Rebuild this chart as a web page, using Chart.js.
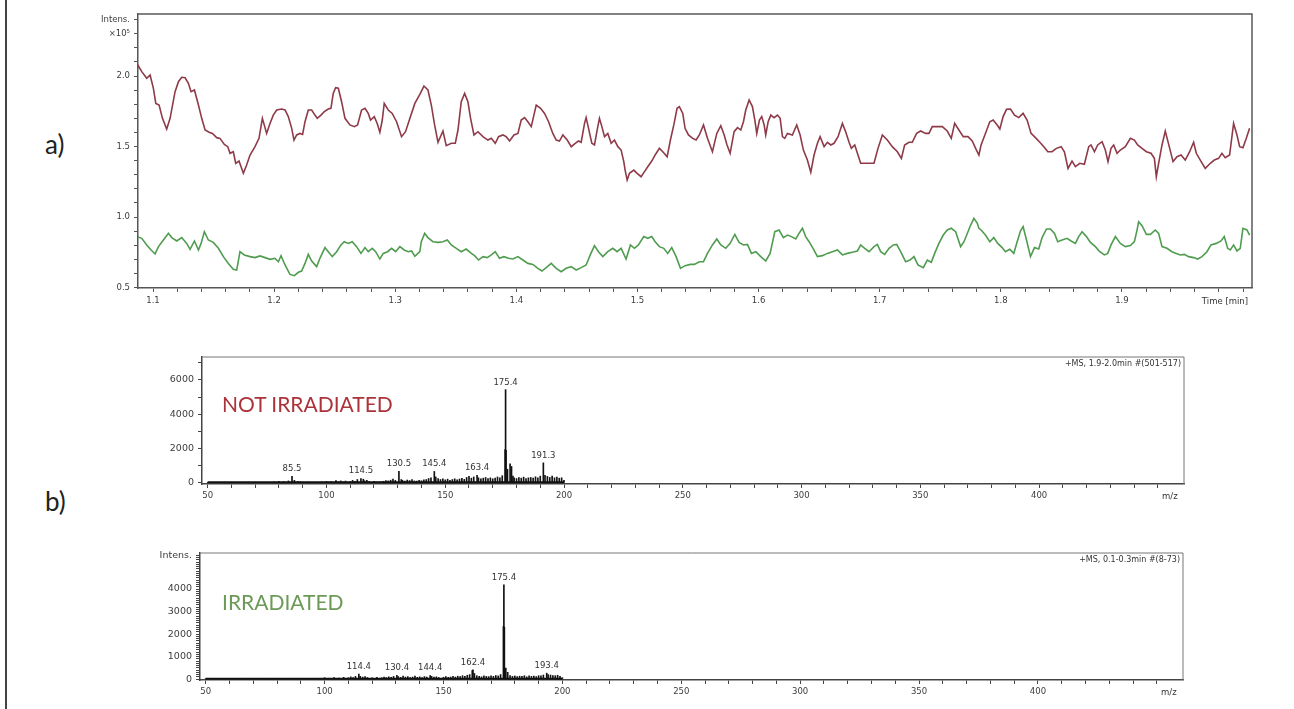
<!DOCTYPE html>
<html>
<head>
<meta charset="utf-8">
<script src="https://cdn.jsdelivr.net/npm/chart.js@4.4.0/dist/chart.umd.min.js"></script>
<style>
  body { margin: 0; background: #fff; width: 1294px; height: 709px; overflow: hidden; position: relative; }
  canvas { position: absolute; }
  #edge { position: absolute; left: 5px; top: 0; width: 2px; height: 709px; background: #444; }
  .tag { position: absolute; font-family: Lato, sans-serif; font-size: 26px; line-height: 26px; color: #222; }
  .state { position: absolute; font-family: Lato, sans-serif; font-size: 21px; line-height: 21px; }
</style>
</head>
<body>
<div id="edge"></div>
<div class="tag" style="left:45px; top:131px;">a)</div>
<div class="tag" style="left:45px; top:488px;">b)</div>
<canvas id="chromA" width="1180" height="312" style="left:80px; top:0px;"></canvas>
<canvas id="specNI" width="1060" height="164" style="left:140px; top:340px;"></canvas>
<canvas id="specIR" width="1060" height="170" style="left:140px; top:535px;"></canvas>
<div class="state" style="left:222px; top:393px; color:#ad333b;">NOT IRRADIATED</div>
<div class="state" style="left:222px; top:591px; color:#6c9a56;">IRRADIATED</div>

<script>
// ---- a) chromatogram, intensity x10^5 vs time [min]
const redTime = [
  1.0866,1.0907,1.0948,1.0976,1.1003,1.1023,1.1050,1.1078,1.1113,1.1141,1.1182,1.1210,1.1237,1.1265,1.1292,1.1314,1.1342,1.1375,1.1402,1.1430,1.1463,1.1490,1.1526,1.1553,1.1589,1.1617,1.1636,1.1663,1.1683,1.1710,1.1746,1.1773,1.1801,1.1842,1.1875,1.1903,1.1938,1.1966,1.1993,1.2021,1.2062,1.2090,1.2117,1.2145,1.2164,1.2186,1.2213,1.2235,1.2255,1.2282,1.2310,1.2337,1.2356,1.2387,1.2414,1.2447,1.2469,1.2488,1.2508,1.2530,1.2557,1.2585,1.2626,1.2662,1.2689,1.2722,1.2750,1.2777,1.2796,1.2827,1.2851,1.2873,1.2893,1.2909,1.2942,1.2975,1.3011,1.3052,1.3085,1.3121,1.3162,1.3203,
  1.3237,1.3270,1.3298,1.3325,1.3353,1.3394,1.3421,1.3463,1.3496,1.3518,1.3545,1.3573,1.3600,1.3622,1.3650,1.3683,1.3724,1.3765,1.3793,1.3826,1.3853,1.3889,1.3916,1.3944,1.3980,1.4013,1.4040,1.4068,1.4095,1.4123,1.4145,1.4164,1.4200,1.4233,1.4266,1.4301,1.4329,1.4356,1.4384,1.4420,1.4453,1.4486,1.4513,1.4535,1.4563,1.4576,1.4596,1.4623,1.4645,1.4667,1.4686,1.4706,1.4728,1.4755,1.4783,1.4810,1.4838,1.4865,1.4887,1.4898,1.4915,1.4934,1.4970,1.4997,1.5030,1.5058,1.5085,1.5118,1.5146,1.5181,1.5209,1.5245,1.5272,1.5300,1.5327,1.5346,1.5374,1.5393,1.5421,1.5456,1.5484,1.5511,
  1.5545,1.5578,1.5619,1.5655,1.5688,1.5716,1.5738,1.5765,1.5798,1.5826,1.5853,1.5875,1.5894,1.5922,1.5949,1.5969,1.5985,1.6007,1.6026,1.6046,1.6059,1.6079,1.6101,1.6128,1.6156,1.6178,1.6197,1.6216,1.6238,1.6279,1.6315,1.6343,1.6370,1.6403,1.6431,1.6458,1.6486,1.6508,1.6541,1.6568,1.6596,1.6623,1.6656,1.6692,1.6719,1.6747,1.6766,1.6794,1.6816,1.6843,1.6953,1.6986,1.7022,1.7063,1.7104,1.7146,1.7179,1.7206,1.7242,1.7269,1.7305,1.7338,1.7379,1.7407,1.7434,1.7517,1.7558,1.7591,1.7619,1.7654,1.7690,1.7729,1.7764,1.7792,1.7819,
  1.7837,1.7873,1.7909,1.7937,1.7970,1.7992,1.8019,1.8047,1.8080,1.8113,1.8148,1.8184,1.8217,1.8250,1.8286,1.8322,1.8355,1.8388,1.8423,1.8459,1.8498,1.8525,1.8555,1.8588,1.8616,1.8652,1.8690,1.8726,1.8745,1.8773,1.8800,1.8836,1.8863,1.8885,1.8910,1.8932,1.8960,1.8987,1.9028,1.9070,1.9103,1.9130,1.9166,1.9202,1.9240,1.9268,1.9284,1.9303,1.9331,1.9358,1.9386,1.9422,1.9455,1.9488,1.9523,1.9559,1.9592,1.9614,1.9647,1.9688,1.9730,1.9763,1.9798,1.9826,1.9853,1.9889,1.9922,1.9950,1.9972,1.9999,2.0027,2.0054
];
const redInt = [
  2.090,2.031,1.984,2.007,1.913,1.806,1.794,1.700,1.624,1.700,1.889,1.960,1.991,1.988,1.948,1.889,1.901,1.794,1.700,1.617,1.601,1.593,1.563,1.558,1.515,1.499,1.452,1.463,1.381,1.397,1.310,1.369,1.440,1.499,1.558,1.700,1.593,1.664,1.723,1.759,1.766,1.759,1.712,1.629,1.546,1.582,1.593,1.586,1.676,1.759,1.759,1.723,1.700,1.723,1.747,1.766,1.771,1.877,1.917,1.913,1.818,1.700,1.653,1.641,1.653,1.759,1.771,1.735,1.688,1.712,1.664,1.601,1.688,1.806,1.759,1.735,1.676,1.570,1.605,1.700,1.806,1.870,
  1.929,1.901,1.794,1.653,1.530,1.610,1.506,1.523,1.523,1.617,1.818,1.877,1.818,1.700,1.582,1.605,1.570,1.546,1.558,1.523,1.570,1.582,1.570,1.539,1.582,1.593,1.688,1.705,1.676,1.641,1.723,1.794,1.771,1.735,1.676,1.593,1.546,1.539,1.582,1.546,1.499,1.523,1.539,1.530,1.664,1.705,1.629,1.523,1.511,1.617,1.700,1.641,1.570,1.593,1.523,1.546,1.499,1.475,1.393,1.333,1.262,1.310,1.333,1.310,1.286,1.322,1.357,1.397,1.440,1.487,1.463,1.428,1.546,1.653,1.771,1.783,1.735,1.629,1.582,1.558,1.546,1.582,
  1.653,1.558,1.463,1.593,1.648,1.582,1.515,1.452,1.605,1.634,1.617,1.676,1.759,1.830,1.783,1.688,1.593,1.688,1.712,1.653,1.582,1.676,1.723,1.705,1.723,1.700,1.570,1.558,1.593,1.582,1.653,1.582,1.475,1.404,1.317,1.440,1.523,1.570,1.499,1.530,1.511,1.523,1.570,1.664,1.605,1.530,1.487,1.511,1.452,1.381,1.381,1.487,1.582,1.546,1.499,1.463,1.416,1.511,1.530,1.530,1.593,1.610,1.593,1.593,1.641,1.641,1.610,1.558,1.664,1.617,1.570,1.570,1.539,1.487,1.440,
  1.511,1.593,1.676,1.688,1.653,1.624,1.712,1.764,1.766,1.723,1.705,1.735,1.688,1.593,1.563,1.530,1.499,1.463,1.463,1.487,1.499,1.463,1.345,1.397,1.357,1.381,1.374,1.499,1.511,1.463,1.511,1.534,1.475,1.393,1.487,1.511,1.452,1.475,1.499,1.558,1.546,1.511,1.487,1.463,1.452,1.416,1.286,1.381,1.511,1.610,1.515,1.393,1.428,1.440,1.404,1.463,1.530,1.452,1.404,1.345,1.381,1.404,1.416,1.452,1.421,1.440,1.664,1.582,1.499,1.492,1.558,1.629
];
const greenTime = [
  1.0866,1.0907,1.0948,1.0984,1.1017,1.1045,1.1086,1.1127,1.1155,1.1196,1.1237,1.1278,1.1306,1.1342,1.1375,1.1397,1.1424,1.1457,1.1498,1.1540,1.1581,1.1622,1.1663,1.1691,1.1718,1.1754,1.1801,1.1842,1.1883,1.1925,1.1966,1.2007,1.2035,1.2057,1.2090,1.2131,1.2167,1.2200,1.2227,1.2255,1.2282,1.2310,1.2351,1.2378,1.2420,1.2447,1.2480,1.2516,1.2552,1.2579,1.2612,1.2645,1.2681,1.2717,1.2750,1.2777,1.2810,1.2838,1.2873,1.2901,1.2937,1.2970,1.3003,1.3038,1.3074,1.3107,1.3135,1.3162,1.3203,
  1.3215,1.3243,1.3270,1.3311,1.3353,1.3394,1.3430,1.3463,1.3504,1.3545,1.3586,1.3628,1.3655,1.3688,1.3724,1.3760,1.3793,1.3826,1.3861,1.3897,1.3936,1.3971,1.4013,1.4054,1.4095,1.4136,1.4178,1.4211,1.4246,1.4288,1.4329,1.4370,1.4411,1.4453,1.4494,1.4535,1.4576,1.4612,1.4645,1.4678,1.4714,1.4755,1.4796,1.4832,1.4865,1.4906,1.4942,1.4975,1.5008,1.5052,1.5085,1.5118,1.5146,1.5181,1.5217,1.5250,1.5283,1.5319,1.5355,1.5393,1.5437,1.5470,1.5511,
  1.5545,1.5578,1.5619,1.5655,1.5688,1.5729,1.5765,1.5804,1.5839,1.5875,1.5908,1.5941,1.5977,1.6018,1.6059,1.6095,1.6134,1.6169,1.6205,1.6238,1.6271,1.6307,1.6334,1.6362,1.6389,1.6417,1.6453,1.6486,1.6527,1.6568,1.6609,1.6651,1.6692,1.6733,1.6774,1.6816,1.6843,1.6876,1.6912,1.6953,1.6981,1.7008,1.7041,1.7077,1.7113,1.7140,1.7173,1.7214,1.7250,1.7283,1.7316,1.7360,1.7393,1.7426,1.7454,1.7489,1.7525,1.7558,1.7591,1.7627,1.7668,1.7696,1.7729,1.7751,1.7778,1.7806,1.7819,
  1.7837,1.7873,1.7909,1.7942,1.7975,1.8011,1.8038,1.8074,1.8107,1.8135,1.8162,1.8184,1.8212,1.8245,1.8278,1.8313,1.8341,1.8377,1.8410,1.8443,1.8470,1.8506,1.8547,1.8580,1.8616,1.8643,1.8671,1.8707,1.8740,1.8781,1.8817,1.8855,1.8883,1.8910,1.8946,1.8987,1.9028,1.9070,1.9103,1.9125,1.9138,1.9166,1.9202,1.9235,1.9276,1.9303,1.9331,1.9372,1.9413,1.9449,1.9482,1.9515,1.9551,1.9592,1.9625,1.9661,1.9702,1.9735,1.9779,1.9818,1.9845,1.9873,1.9895,1.9922,1.9950,1.9977,1.9999,2.0032,2.0054
];
const greenInt = [
  0.861,0.849,0.802,0.766,0.738,0.790,0.837,0.884,0.854,0.830,0.854,0.813,0.771,0.830,0.766,0.813,0.896,0.837,0.820,0.778,0.719,0.671,0.629,0.624,0.754,0.731,0.719,0.712,0.724,0.712,0.700,0.707,0.683,0.726,0.660,0.593,0.584,0.608,0.617,0.671,0.735,0.688,0.648,0.707,0.783,0.754,0.719,0.754,0.802,0.825,0.813,0.825,0.790,0.742,0.783,0.754,0.778,0.754,0.702,0.742,0.754,0.778,0.754,0.790,0.766,0.754,0.759,0.721,0.754,
  0.825,0.884,0.854,0.825,0.820,0.825,0.837,0.802,0.778,0.754,0.773,0.742,0.726,0.695,0.719,0.712,0.731,0.754,0.707,0.719,0.707,0.702,0.719,0.695,0.671,0.664,0.636,0.617,0.641,0.671,0.636,0.612,0.636,0.648,0.624,0.641,0.660,0.735,0.797,0.754,0.719,0.754,0.778,0.754,0.778,0.702,0.802,0.778,0.802,0.861,0.849,0.861,0.825,0.790,0.778,0.742,0.783,0.719,0.636,0.655,0.664,0.664,0.683,
  0.683,0.742,0.802,0.844,0.802,0.778,0.813,0.877,0.820,0.802,0.806,0.742,0.754,0.719,0.688,0.742,0.896,0.908,0.854,0.872,0.861,0.844,0.884,0.920,0.861,0.825,0.773,0.719,0.726,0.742,0.754,0.766,0.731,0.742,0.750,0.759,0.802,0.778,0.754,0.790,0.806,0.754,0.735,0.778,0.802,0.806,0.754,0.683,0.695,0.719,0.660,0.641,0.695,0.679,0.742,0.813,0.872,0.908,0.920,0.896,0.790,0.825,0.896,0.943,0.991,0.955,0.920,
  0.908,0.872,0.825,0.854,0.813,0.783,0.754,0.771,0.742,0.825,0.901,0.932,0.837,0.719,0.783,0.773,0.854,0.915,0.915,0.884,0.825,0.837,0.849,0.830,0.813,0.861,0.896,0.861,0.820,0.790,0.754,0.731,0.742,0.802,0.861,0.813,0.790,0.797,0.825,0.908,0.967,0.939,0.877,0.877,0.908,0.884,0.790,0.778,0.754,0.742,0.731,0.735,0.719,0.712,0.702,0.719,0.754,0.802,0.813,0.830,0.861,0.778,0.766,0.802,0.759,0.778,0.920,0.908,0.872
];

// ---- b) mass spectra, intensity vs m/z
const niMz = [50,52,54,56,58,60,62,64,66,68,
  70,72,74,76,78,80,81,82,84,85.5,
  86.5,88,89,90,92,94,96,98,100,101,
  102,104,105,106,107,108,110,111,112,113,
  114.5,115.5,116,117,118,120,121,122,123,124,
  125,126,127,128,129,130.5,131.5,132,133,134,
  135,136,137,138,139,140,141,142,143,144,
  145.4,146,147,148,149,150,151,152,153,154,
  155,156,157,158,159,160,161,162,163.4,164,
  165,166,167,168,169,170,171,172,173,174,
  175.2,175.4,175.6,176.2,177.3,177.9,178.5,179,180,181,
  182,183,184,185,186,187,188,189,190,191.3,
  192,193,194,195,196,197,198,199,200];
const niInt = [20,15,25,15,20,30,15,20,25,15,
  20,25,20,30,60,90,40,70,120,380,
  150,100,60,40,50,30,40,60,90,50,
  70,140,60,120,50,110,80,150,100,200,
  260,220,130,160,80,90,60,50,70,100,
  140,120,160,220,150,680,200,150,110,170,
  140,200,120,110,150,130,180,200,260,300,
  670,350,260,200,240,180,220,160,200,240,
  180,230,270,210,320,380,280,350,440,300,
  240,280,320,260,300,240,280,350,300,420,
  1950,5430,1900,800,1110,960,400,300,260,320,
  280,340,260,300,320,280,360,300,400,1170,
  450,380,320,400,300,340,280,300,160];
const irMz = [50,55,60,62,65,70,72,75,80,82,
  85,88,90,92,95,98,100,102,104,106,
  108,110,111,112,113,114.4,115,116,117,118,
  120,122,124,125,126,127,128,129,130.4,131,
  132,133,134,135,136,137,138,139,140,141,
  142,143,144.4,145,146,147,148,150,151,152,
  153,154,155,156,157,158,159,160,161,162.1,
  162.4,163,164,165,166,167,168,169,170,171,
  172,173,174,175.2,175.4,175.6,176.2,177,178,179,
  180,181,182,183,184,185,186,187,188,189,
  190,191,192,193.4,194,195,196,197,198,199,
  200];
const irInt = [10,15,10,15,10,20,15,10,25,15,
  20,15,25,15,20,25,60,40,70,50,
  80,60,100,70,120,220,120,90,110,70,
  60,80,60,90,70,100,80,120,170,110,
  80,130,90,110,70,90,130,80,100,70,
  110,90,160,120,90,100,70,80,110,80,
  90,120,90,130,110,150,120,170,200,380,
  410,250,150,120,100,140,120,110,140,120,
  160,140,200,2340,4190,2300,490,300,160,120,
  140,110,130,120,150,100,140,120,130,110,
  150,140,180,265,200,180,160,150,170,120,
  60];
const baseMz = [50, 200];
const niBaseInt = [35, 35];
const irBaseInt = [20, 20];
const niPeaks = [85.5, 114.5, 130.5, 145.4, 163.4, 175.4, 191.3];
const irPeaks = [114.4, 130.4, 144.4, 162.4, 175.4, 193.4];

// ---- ticks and tick labels
const timeLabels = [[1.1,'1.1'],[1.2,'1.2'],[1.3,'1.3'],[1.4,'1.4'],[1.5,'1.5'],[1.6,'1.6'],[1.7,'1.7'],[1.8,'1.8'],[1.9,'1.9']];
const intensLabels = [[0.5,'0.5'],[1.0,'1.0'],[1.5,'1.5'],[2.0,'2.0'],[2.3,'×10⁵'],[2.4,'Intens.']];
const mzLabels = [[50,'50'],[100,'100'],[150,'150'],[200,'200'],[250,'250'],[300,'300'],[350,'350'],[400,'400']];
const niIntLabels = [[0,'0'],[2000,'2000'],[4000,'4000'],[6000,'6000']];
const irIntLabels = [[0,'0'],[1000,'1000'],[2000,'2000'],[3000,'3000'],[4000,'4000'],[5500,'Intens.']];

function range(a, b, step) {
  const out = [];
  for (let v = a; v <= b + step / 2; v += step) out.push(+v.toFixed(4));
  return out;
}
const timeTicks = range(1.10, 2.00, 0.02);
const intensTicks = range(0.5, 2.4, 0.1);
const mzTicks = range(50, 450, 10);
const niIntTicks = range(0, 7000, 1000);
const irIntTicks = range(0, 5500, 100);

const toXY = (xs, ys) => xs.map((x, i) => ({ x: x, y: ys[i] }));
const setTicks = values => scale => { scale.ticks = values.map(v => ({ value: v })); };
const labelsFor = pairs => v => {
  const hit = pairs.find(p => Math.abs(p[0] - v) < 1e-6);
  return hit ? hit[1] : '';
};

Chart.defaults.font.family = '"DejaVu Sans", sans-serif';
Chart.defaults.color = '#3c3c3c';

// frame, peak labels, axis-end caption and corner note
const annot = {
  id: 'annot',
  afterDraw(chart, args, o) {
    const { ctx, chartArea: a, scales } = chart;
    ctx.save();
    ctx.strokeStyle = o.frameColor;
    ctx.lineWidth = o.frameWidth;
    ctx.beginPath();
    ctx.moveTo(a.left, a.top);
    ctx.lineTo(a.right, a.top);
    ctx.lineTo(a.right, a.bottom);
    ctx.stroke();
    ctx.fillStyle = '#333';
    if (o.peaks) {
      ctx.font = '8.5px "DejaVu Sans"';
      ctx.textAlign = 'center';
      ctx.textBaseline = 'bottom';
      o.peaks.forEach(p => {
        ctx.fillText(p.mz.toFixed(1), scales.x.getPixelForValue(p.mz), scales.y.getPixelForValue(p.h) - 3);
      });
    }
    if (o.axisEnd) {
      ctx.font = o.axisEnd.font;
      ctx.textAlign = o.axisEnd.align;
      ctx.textBaseline = 'middle';
      ctx.fillText(o.axisEnd.text, scales.x.getPixelForValue(o.axisEnd.value) + o.axisEnd.dx, a.bottom + o.axisEnd.dy);
    }
    if (o.corner) {
      ctx.font = '8px "DejaVu Sans"';
      ctx.textAlign = 'right';
      ctx.textBaseline = 'top';
      ctx.fillText(o.corner, a.right - 3, a.top + 3);
    }
    ctx.restore();
  }
};

function axisStyle(color) {
  return {
    grid: { drawOnChartArea: false, drawTicks: true, tickLength: 4, tickColor: color, tickWidth: 1, offset: false },
    border: { display: true, color: color, width: 1.5 }
  };
}

new Chart(document.getElementById('chromA'), {
  type: 'line',
  data: {
    datasets: [
      { data: toXY(redTime, redInt), borderColor: '#8e3a48', borderWidth: 1.6, pointRadius: 0, tension: 0 },
      { data: toXY(greenTime, greenInt), borderColor: '#4f9c4f', borderWidth: 1.6, pointRadius: 0, tension: 0 }
    ]
  },
  options: {
    responsive: false, animation: false, events: [],
    layout: { padding: { top: 14, right: 8, left: 0, bottom: 0 } },
    plugins: {
      legend: { display: false }, tooltip: { enabled: false },
      annot: { frameColor: '#5a5a5a', frameWidth: 1.5,
        axisEnd: { text: 'Time [min]', value: 2.0, dx: 5, dy: 14, align: 'right', font: '8.5px "DejaVu Sans"' } }
    },
    scales: {
      x: Object.assign(axisStyle('#555'), {
        type: 'linear', min: 1.0876, max: 2.0074,
        afterBuildTicks: setTicks(timeTicks),
        afterFit: s => { s.height = 24; },
        ticks: { autoSkip: false, maxRotation: 0, padding: 4, font: { size: 8.5 }, callback: labelsFor(timeLabels) }
      }),
      y: Object.assign(axisStyle('#555'), {
        type: 'linear', min: 0.4965, max: 2.44,
        afterBuildTicks: setTicks(intensTicks),
        afterFit: s => { s.width = 58; },
        ticks: { autoSkip: false, padding: 4, font: { size: 8.5 }, callback: labelsFor(intensLabels) }
      })
    }
  },
  plugins: [annot]
});

function spectrum(id, cfg) {
  new Chart(document.getElementById(id), {
    type: 'bar',
    data: {
      datasets: [
        { type: 'line', data: toXY(baseMz, cfg.base), borderColor: '#111', borderWidth: 2, pointRadius: 0 },
        { type: 'bar', data: toXY(cfg.mz, cfg.int), backgroundColor: '#111', borderWidth: 0, barThickness: 1, grouped: false }
      ]
    },
    options: {
      responsive: false, animation: false, events: [],
      layout: { padding: { top: cfg.padTop, right: cfg.padRight, left: 0, bottom: 0 } },
      plugins: {
        legend: { display: false }, tooltip: { enabled: false },
        annot: {
          frameColor: '#777', frameWidth: 1,
          peaks: cfg.peaks.map(m => ({ mz: m, h: cfg.int[cfg.mz.indexOf(m)] })),
          axisEnd: { text: 'm/z', value: 450, dx: 12, dy: 13, align: 'center', font: '8.5px "DejaVu Sans"' },
          corner: cfg.note
        }
      },
      scales: {
        x: Object.assign(axisStyle('#444'), {
          type: 'linear', min: 47.6, max: 461, offset: false,
          afterBuildTicks: setTicks(mzTicks),
          afterFit: s => { s.height = cfg.xHeight; },
          ticks: { autoSkip: false, maxRotation: 0, padding: 3, font: { size: 8.5 }, callback: labelsFor(mzLabels) }
        }),
        y: Object.assign(axisStyle('#444'), {
          type: 'linear', min: cfg.yMin, max: cfg.yMax,
          afterBuildTicks: setTicks(cfg.yTicks),
          afterFit: s => { s.width = cfg.yWidth; },
          ticks: { autoSkip: false, padding: 4, font: { size: 9.5 }, callback: labelsFor(cfg.yLabels) }
        })
      }
    },
    plugins: [annot]
  });
}

spectrum('specNI', {
  mz: niMz, int: niInt, base: niBaseInt, peaks: niPeaks,
  note: '+MS, 1.9-2.0min #(501-517)',
  yMin: -60, yMax: 7330, yTicks: niIntTicks, yLabels: niIntLabels,
  padTop: 17, padRight: 16, xHeight: 20, yWidth: 62
});
spectrum('specIR', {
  mz: irMz, int: irInt, base: irBaseInt, peaks: irPeaks,
  note: '+MS, 0.1-0.3min #(8-73)',
  yMin: -40, yMax: 5600, yTicks: irIntTicks, yLabels: irIntLabels,
  padTop: 18, padRight: 17, xHeight: 25, yWidth: 60
});
</script>
</body>
</html>
